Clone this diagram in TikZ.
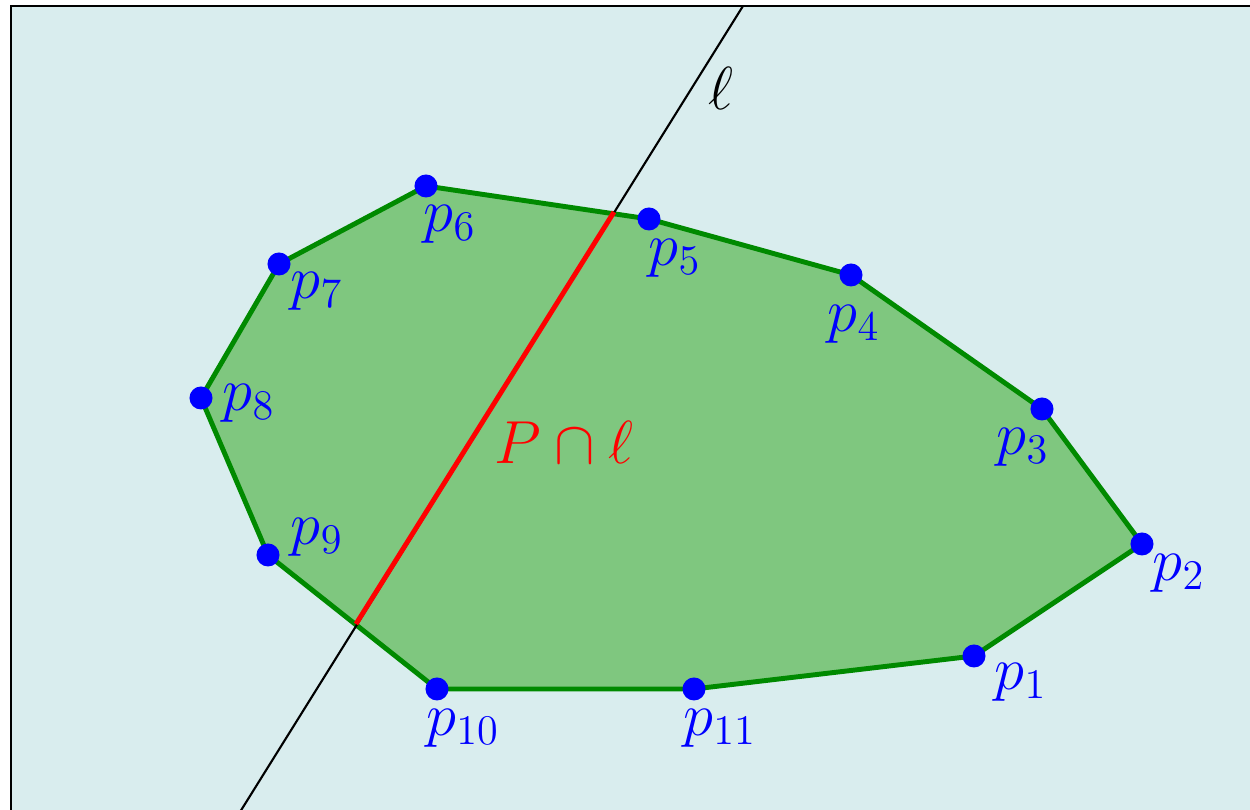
\documentclass[tikz,border=0pt]{standalone}
\usepackage{amsmath,amssymb}
\usepackage{xcolor}
\usepackage{tikz}
\usetikzlibrary{positioning}

\definecolor{bgcyan}{RGB}{217,237,238}
\definecolor{polyfill}{RGB}{127,199,127}
\definecolor{polyedge}{RGB}{0,138,0}

\begin{document}
\begin{tikzpicture}[
    x=0.01cm, y=-0.01cm,
    bigmath/.style={font=\fontsize{18}{22}\selectfont, inner sep=0pt},
    vertex/.style={circle, fill=blue, inner sep=0pt, minimum size=0.23cm},
    plabel/.style={bigmath, text=blue, on grid},
    hull/.style={draw=polyedge, fill=polyfill, line width=1.4pt, line join=round},
    cutline/.style={red, line width=1.4pt}
]
\useasboundingbox (0,0) rectangle (1250,810);

% Background
\draw[fill=bgcyan, line width=0.8pt] (11,6) rectangle (1265,825);

% Polygon corners
\foreach \i/\x/\y in {1/974/656, 2/1142/544, 3/1042/409, 4/851/275, 5/649/219,
                      6/426/186, 7/279/264, 8/201/398, 9/268/555, 10/437/689, 11/694/689}
    \coordinate (v\i) at (\x,\y);

\draw[hull] (v1) -- (v2) -- (v3) -- (v4) -- (v5) -- (v6) -- (v7) -- (v8)
    -- (v9) -- (v10) -- (v11) -- cycle;

% Line l and its cut with P
\coordinate (lBot) at (240,812);
\coordinate (lTop) at (743,6);
\coordinate (q1) at (614,212);
\coordinate (q2) at (356,624);
\draw[semithick] (lBot) -- (lTop);
\draw[cutline] (q2) -- (q1);

% Vertices
\foreach \i in {1,...,11}
    \node[vertex] (p\i) at (v\i) {};

% Vertex labels
\foreach \i/\dy/\dx in {1/0.26cm/0.47cm, 2/0.29cm/0.37cm, 3/0.38cm/-0.19cm,
                        4/0.49cm/0.03cm, 5/0.39cm/0.26cm, 6/0.38cm/0.24cm,
                        7/0.27cm/0.38cm, 8/0.05cm/0.48cm, 9/-0.18cm/0.49cm,
                        10/0.39cm/0.26cm, 11/0.39cm/0.26cm}
    \node[plabel, below right=\dy and \dx of p\i] (t\i) {$p_{\i}$};

\node[bigmath] (ell) at (721,88) {$\ell$};
\node[bigmath, text=red] (cut) at (564,442) {$P\cap\ell$};

\end{tikzpicture}
\end{document}
